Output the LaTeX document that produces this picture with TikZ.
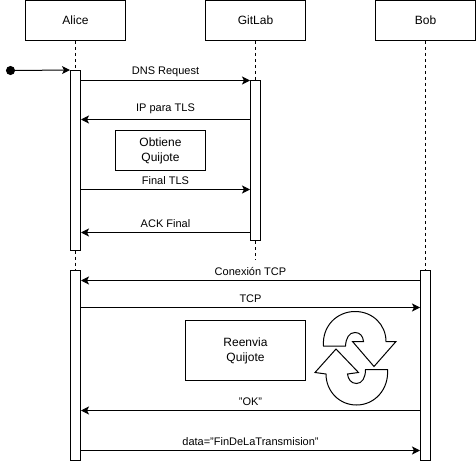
\documentclass[tikz,border=0pt]{standalone}
\usepackage{fontspec}
\setmainfont{Liberation Sans}
\usetikzlibrary{arrows.meta}
\tikzset{
  actorbox/.style={draw=black,fill=white,line width=1pt,inner sep=0pt,align=center,font=\fontsize{12}{14}\selectfont,minimum width=100pt,minimum height=40pt},
  activation/.style={draw=black,fill=white,line width=1pt,inner sep=0pt,minimum width=10pt},
  notebox/.style={draw=black,fill=white,line width=1pt,inner sep=0pt,align=center,font=\fontsize{12}{15}\selectfont},
  lifeline/.style={draw=black,line width=1pt,dash pattern=on 3pt off 3pt},
  msg/.style={draw=black,line width=1pt,-{Stealth[length=8pt,width=8pt,inset=2pt]}},
  msglabel/.style={inner sep=0pt,font=\fontsize{11}{13}\selectfont},
  recycle/.style={draw=black,fill=white,line width=1pt,line join=miter}
}
\begin{document}
\begin{tikzpicture}[x=1pt,y=-1pt]
\useasboundingbox (0,0) rectangle (476,462);
% actors
\node[actorbox] (alice) at (75.5,20.5) {Alice};
\node[actorbox] (gitlab) at (255.5,20.5) {GitLab};
\node[actorbox] (bob) at (425.5,20.5) {Bob};
% activations
\node[activation,minimum height=179.5pt] (a1) at (75.5,160.25) {};
\node[activation,minimum height=190pt] (a2) at (75.5,365.5) {};
\node[activation,minimum height=160pt] (g1) at (255.5,160.5) {};
\node[activation,minimum height=190pt] (b1) at (425.5,365.5) {};
\coordinate (gend) at (255.5,260);
% lifelines
\draw[lifeline] (alice.south) -- (a1.north);
\draw[lifeline] (a1.south) -- (a2.north);
\draw[lifeline] (gitlab.south) -- (g1.north);
\draw[lifeline] (g1.south) -- (gend);
\draw[lifeline] (bob.south) -- (b1.north);
% start
\node[circle,fill=black,draw=black,line width=1pt,inner sep=0pt,minimum size=8pt] (start) at (10.5,70.5) {};
\draw[msg] (start.east) -- (a1.north west);
% notes
\node[notebox,minimum width=90pt,minimum height=40pt] (obt) at (160.5,150.5) {Obtiene\\Quijote};
\node[notebox,minimum width=120pt,minimum height=60pt] (ree) at (245.5,350.5) {Reenvia\\Quijote};
% messages
\draw[msg] (a1.east |- 0,80.5) -- node[msglabel,above=3.5pt] {DNS Request} (g1.west |- 0,80.5);
\draw[msg] (g1.west |- 0,119.5) -- node[msglabel,above=5pt] {IP para TLS} (a1.east |- 0,119.5);
\draw[msg] (a1.east |- 0,189.5) -- node[msglabel,above=4pt] {Final TLS} (g1.west |- 0,189.5);
\draw[msg] (g1.west |- 0,232.5) -- node[msglabel,above=4pt] {ACK Final} (a1.east |- 0,232.5);
\draw[msg] (b1.west |- 0,280.5) -- node[msglabel,above=4pt] {Conexión TCP} (a2.east |- 0,280.5);
\draw[msg] (a2.east |- 0,307.5) -- node[msglabel,above=4pt] {TCP} (b1.west |- 0,307.5);
\draw[msg] (b1.west |- 0,410.5) -- node[msglabel,above=4pt] {"OK"} (a2.east |- 0,410.5);
\draw[msg] (a2.east |- 0,450.5) -- node[msglabel,above=4pt] {data="FinDeLaTransmision"} (b1.west |- 0,450.5);
% recycle symbol
\draw[recycle] (323.5,346) .. controls (322,326) and (337,311.5) .. (355,311.5)
  .. controls (373,311.5) and (386,325) .. (386,341.5)
  -- (396,341.5) -- (374,366.5) -- (352.5,341.5) -- (363.5,341.5)
  .. controls (363,336) and (360,332.5) .. (355,332.5)
  .. controls (349,332.5) and (346,338) .. (345.5,346) -- cycle;
\draw[recycle] (387.5,369.5) .. controls (389,389) and (375,405) .. (356.5,405)
  .. controls (339,405) and (326,391) .. (326,374)
  -- (315,372.5) -- (336,349) -- (358.5,372.5) -- (347.5,374)
  .. controls (348,379) and (351,383.5) .. (356.5,383.5)
  .. controls (362,383.5) and (365.5,378) .. (365.5,369.5) -- cycle;
\end{tikzpicture}
\end{document}
